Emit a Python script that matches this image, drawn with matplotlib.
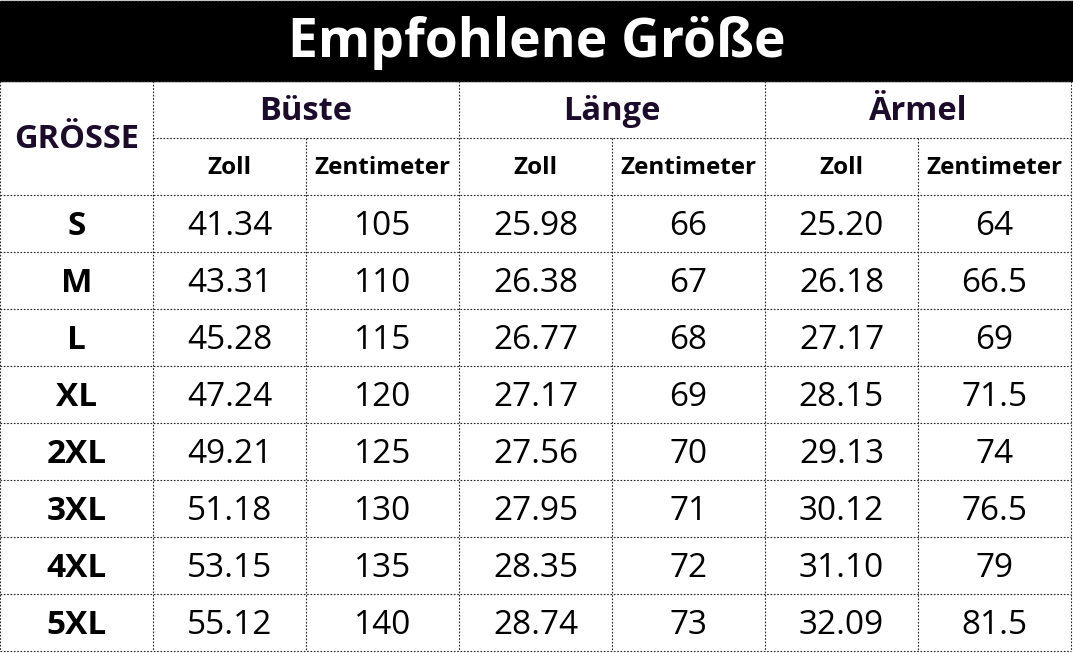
import matplotlib.pyplot as plt

plt.rcParams['font.family'] = ['Open Sans', 'DejaVu Sans']

title = 'Empfohlene Größe'
size_label = 'GRÖSSE'
groups = ['Büste', 'Länge', 'Ärmel']
units = ['Zoll', 'Zentimeter']

sizes = ['S', 'M', 'L', 'XL', '2XL', '3XL', '4XL', '5XL']
buste_zoll = [41.34, 43.31, 45.28, 47.24, 49.21, 51.18, 53.15, 55.12]
buste_cm = [105, 110, 115, 120, 125, 130, 135, 140]
laenge_zoll = [25.98, 26.38, 26.77, 27.17, 27.56, 27.95, 28.35, 28.74]
laenge_cm = [66, 67, 68, 69, 70, 71, 72, 73]
aermel_zoll = [25.20, 26.18, 27.17, 28.15, 29.13, 30.12, 31.10, 32.09]
aermel_cm = [64, 66.5, 69, 71.5, 74, 76.5, 79, 81.5]

columns = [buste_zoll, buste_cm, laenge_zoll, laenge_cm, aermel_zoll, aermel_cm]

W, H = 1073, 653
fig = plt.figure(figsize=(W / 100, H / 100), dpi=100)
ax = fig.add_axes([0, 0, 1, 1])
ax.set_xlim(0, W)
ax.set_ylim(H, 0)
ax.axis('off')

col_w = 153
x_end = 7 * col_w
title_h = 81
head_h = 57
row_h = 57
y_sub = title_h + head_h
y_data = y_sub + head_h

head_color = '#1c0c2c'
line_kw = dict(color='#222222', lw=0.8, ls=(0, (1.5, 1.5)))

# title bar
ax.add_patch(plt.Rectangle((0, 1), W, title_h - 1, color='black'))
ax.text(W / 2, title_h / 2 + 2, title, color='white', fontsize=38.5,
        fontweight='bold', ha='center', va='center')

# grid lines
ax.plot([0, W], [0.5, 0.5], **line_kw)
ax.plot([0, x_end], [title_h, title_h], **line_kw)
ax.plot([col_w, x_end], [y_sub, y_sub], **line_kw)
for i in range(len(sizes) + 1):
    y = y_data + i * row_h
    ax.plot([0, x_end], [y, y], **line_kw)
y_bottom = y_data + len(sizes) * row_h
for c in range(8):
    x = c * col_w
    if c in (2, 4, 6):
        ax.plot([x, x], [y_sub, y_bottom], **line_kw)
    else:
        ax.plot([x, x], [title_h, y_bottom], **line_kw)

# headers
ax.text(col_w / 2, (title_h + y_sub + head_h) / 2 + 2, size_label, color=head_color,
        fontsize=23.5, fontweight='bold', ha='center', va='center')
for g, name in enumerate(groups):
    xc = col_w * (1 + 2 * g) + col_w
    ax.text(xc, title_h + head_h / 2 + 2, name, color=head_color, fontsize=23.5,
            fontweight='bold', ha='center', va='center')
    for u, unit in enumerate(units):
        xu = col_w * (1 + 2 * g + u) + col_w / 2
        ax.text(xu, y_sub + head_h / 2 + 2, unit, color='black', fontsize=17.5,
                fontweight='bold', ha='center', va='center')

# data rows
for r, s in enumerate(sizes):
    yc = y_data + r * row_h + row_h / 2 + 3
    ax.text(col_w / 2, yc, s, fontsize=24, fontweight='bold', ha='center', va='center')
    for c, col in enumerate(columns):
        v = col[r]
        txt = f'{v:.2f}' if c % 2 == 0 else f'{v:g}'
        ax.text(col_w * (c + 1) + col_w / 2, yc, txt, fontsize=24,
                ha='center', va='center')

fig.savefig('out.png', dpi=100)
